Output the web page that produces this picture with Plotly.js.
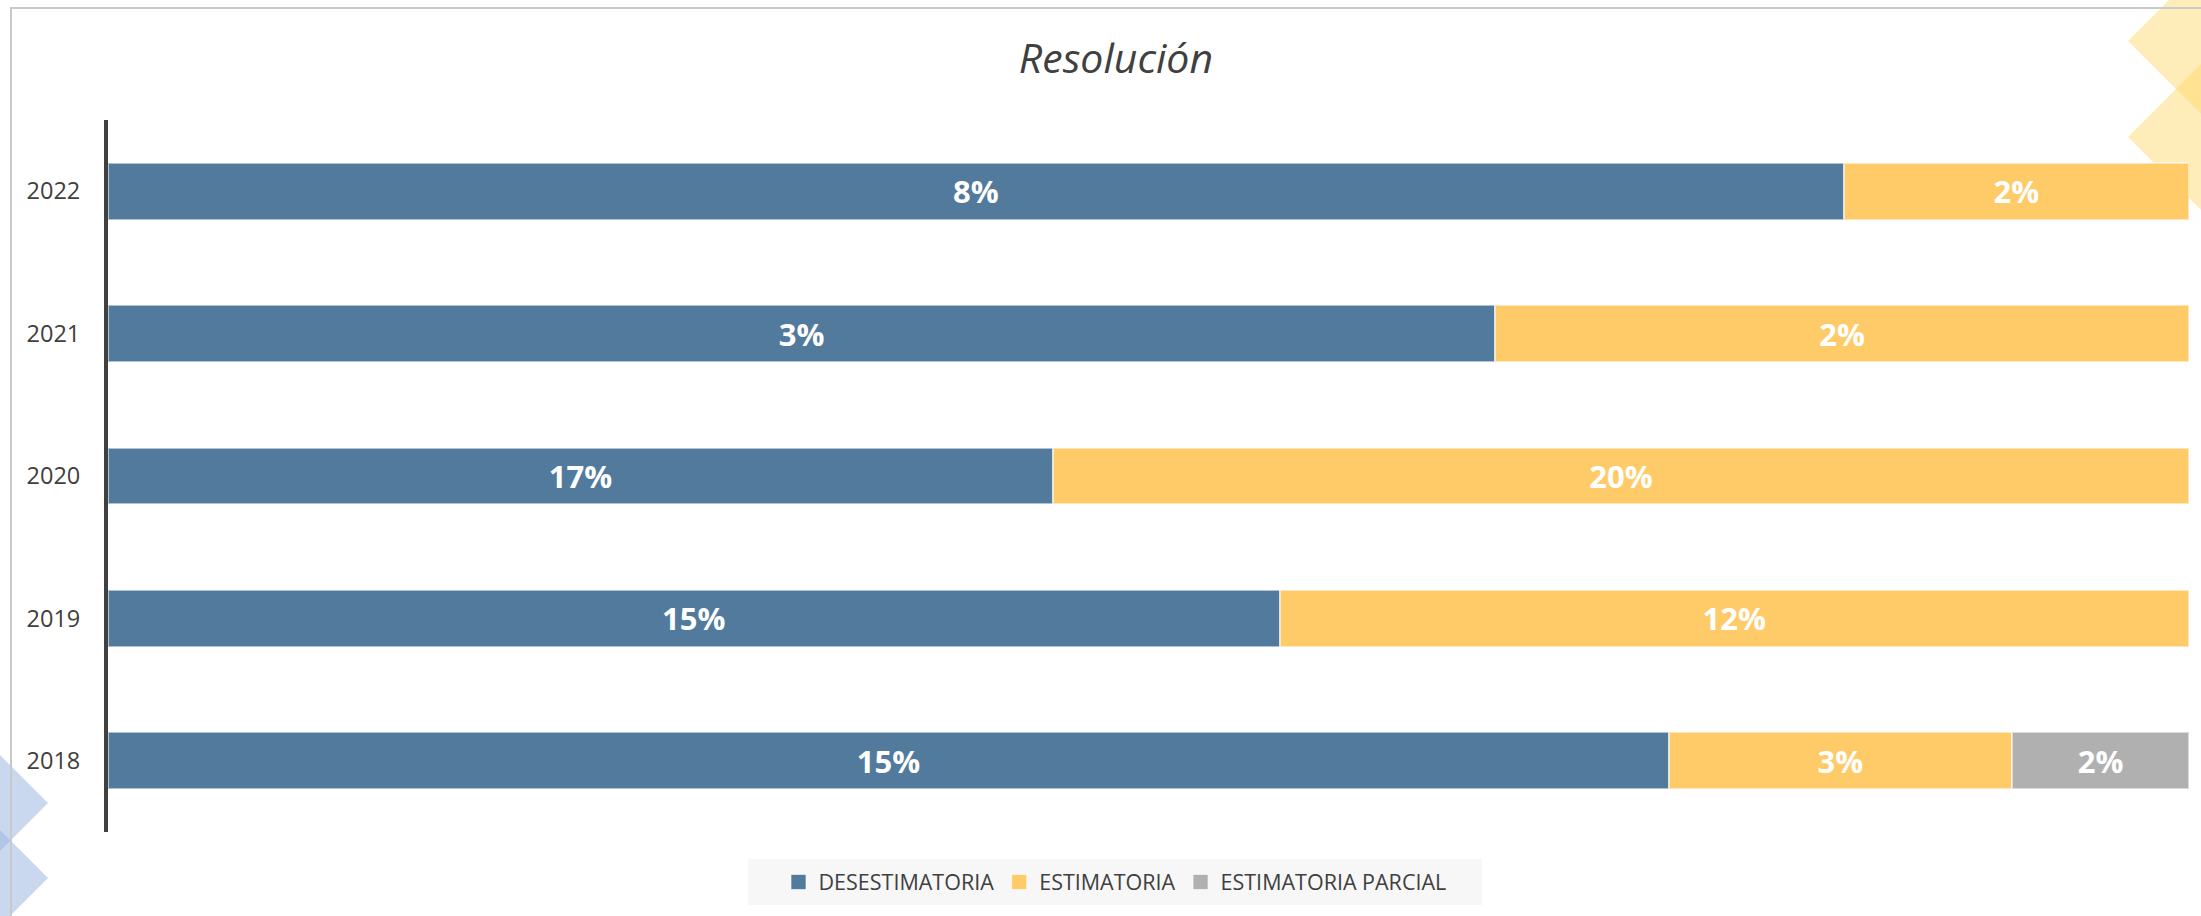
<!DOCTYPE html>
<html>
<head>
<meta charset="utf-8">
<script src="https://cdn.plot.ly/plotly-3.0.1.min.js"></script>
<style>
  html, body { margin: 0; padding: 0; background: #fff; }
  #chart { width: 2201px; height: 916px; }
</style>
</head>
<body>
<div id="chart"></div>
<script>
// years (bottom to top) and resolution shares per year, in %
let years = ['2018', '2019', '2020', '2021', '2022'];
let desestimatoria = [15.0, 15.2, 16.8, 3.4, 8.4];
let estimatoria = [3.3, 11.8, 20.2, 1.7, 1.67];
let estimatoriaParcial = [1.7, null, null, null, null];

let seriesNames = ['DESESTIMATORIA', 'ESTIMATORIA', 'ESTIMATORIA PARCIAL'];
let seriesColors = ['#527a9c', '#ffcb69', '#b0b0b0'];
let seriesValues = [desestimatoria, estimatoria, estimatoriaParcial];

// plot area in pixels, used to place the decorations
const L = 108, R = 12, T = 120, B = 84, W = 2201, H = 916;
const pw = W - L - R, ph = H - T - B;
function px(x) { return (x - L) / pw; }
function py(y) { return (H - B - y) / ph; }
function diamond(cx, cy, h) {
  return 'M ' + px(cx - h) + ' ' + py(cy) +
         ' L ' + px(cx) + ' ' + py(cy - h) +
         ' L ' + px(cx + h) + ' ' + py(cy) +
         ' L ' + px(cx) + ' ' + py(cy + h) + ' Z';
}

let data = [];
for (let i = 0; i < seriesNames.length; i++) {
  let vals = seriesValues[i];
  data.push({
    type: 'bar',
    orientation: 'h',
    name: seriesNames[i],
    y: years,
    x: vals,
    text: vals.map(v => v == null ? '' : Math.round(v) + '%'),
    texttemplate: '%{text}',
    textposition: 'inside',
    insidetextanchor: 'middle',
    textangle: 0,
    textfont: { family: 'Open Sans', size: 31, color: '#ffffff', weight: 'bold' },
    marker: { color: seriesColors[i], line: { color: 'rgba(255,255,255,0.55)', width: 2 } },
    showlegend: false,
    hoverinfo: 'name+text'
  });
}
// legend entries with bigger square keys
for (let i = 0; i < seriesNames.length; i++) {
  data.push({
    type: 'scatter',
    mode: 'markers',
    name: seriesNames[i],
    x: [null],
    y: [null],
    marker: { symbol: 'square', size: 15, color: seriesColors[i],
              line: { color: 'rgba(255,255,255,0.6)', width: 1 } },
    showlegend: true,
    hoverinfo: 'skip'
  });
}

let shapes = [
  // yellow diamonds, top right
  { type: 'path', xref: 'paper', yref: 'paper', layer: 'below', path: diamond(2210, 41, 82),
    fillcolor: 'rgba(255,214,100,0.45)', line: { width: 0 } },
  { type: 'path', xref: 'paper', yref: 'paper', layer: 'below', path: diamond(2210, 137, 82),
    fillcolor: 'rgba(255,214,100,0.45)', line: { width: 0 } },
  // blue diamonds, bottom left
  { type: 'path', xref: 'paper', yref: 'paper', layer: 'below', path: diamond(-30, 803, 78),
    fillcolor: 'rgba(150,178,224,0.5)', line: { width: 0 } },
  { type: 'path', xref: 'paper', yref: 'paper', layer: 'below', path: diamond(-30, 878, 78),
    fillcolor: 'rgba(150,178,224,0.5)', line: { width: 0 } },
  // legend background band
  { type: 'rect', xref: 'paper', yref: 'paper', layer: 'below',
    x0: px(748), x1: px(1482), y0: py(905), y1: py(859),
    fillcolor: '#f7f7f7', line: { width: 0 } },
  // outer frame
  { type: 'rect', xref: 'paper', yref: 'paper', layer: 'below',
    x0: px(11), x1: px(2230), y0: py(950), y1: py(8),
    line: { color: '#c9c9c9', width: 2 } }
];

let layout = {
  width: W,
  height: H,
  margin: { l: L, r: R, t: T, b: B },
  paper_bgcolor: '#ffffff',
  plot_bgcolor: 'rgba(0,0,0,0)',
  barmode: 'stack',
  barnorm: 'percent',
  bargap: 0.6,
  font: { family: 'Open Sans', color: '#404040' },
  title: {
    text: 'Resolución',
    font: { family: 'Open Sans', size: 41, color: '#404040', style: 'italic' },
    xref: 'container', x: 0.507, xanchor: 'center',
    yref: 'container', y: 1 - 59 / H, yanchor: 'middle'
  },
  xaxis: { range: [0, 100], visible: false, fixedrange: true },
  yaxis: {
    type: 'category',
    showline: true, linecolor: '#404040', linewidth: 4,
    showgrid: false, zeroline: false, ticks: '',
    ticklabelstandoff: 19,
    tickfont: { family: 'Open Sans', size: 23.5, color: '#404040' },
    fixedrange: true
  },
  showlegend: true,
  legend: {
    orientation: 'h',
    x: px(1115), xanchor: 'center',
    y: py(882), yanchor: 'middle',
    bgcolor: 'rgba(0,0,0,0)',
    font: { family: 'Open Sans', size: 21.5, color: '#404040' },
    traceorder: 'normal',
    itemwidth: 30
  },
  shapes: shapes
};

Plotly.newPlot('chart', data, layout, { displayModeBar: false, staticPlot: true });
</script>
</body>
</html>
